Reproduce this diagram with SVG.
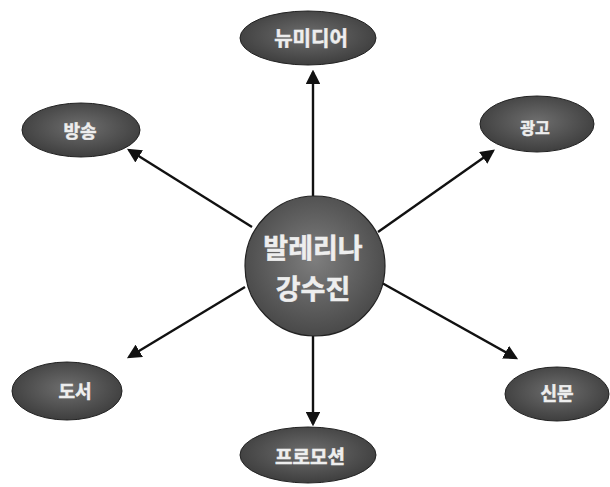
<svg xmlns="http://www.w3.org/2000/svg" width="610" height="487" viewBox="0 0 610 487">
<style>
.node{fill:url(#g);stroke:#222;stroke-width:1}
.hub{fill:url(#gh);stroke:#222;stroke-width:1.2}
.t{font-family:"Noto Sans CJK KR","Noto Sans",sans-serif;font-weight:bold;fill:#eeeeee;stroke:#eeeeee;stroke-width:0.5;text-anchor:middle}
.c{stroke:#111;stroke-width:2.4;fill:none;marker-end:url(#ah)}
</style>
<defs>
<radialGradient id="g" cx="50%" cy="45%" r="60%">
<stop offset="0" stop-color="#6e6e6e"/>
<stop offset="1" stop-color="#3a3a3a"/>
</radialGradient>
<radialGradient id="gh" cx="50%" cy="45%" r="60%">
<stop offset="0" stop-color="#7e7e7e"/>
<stop offset="1" stop-color="#444444"/>
</radialGradient>
<marker id="ah" markerWidth="6" markerHeight="6" refX="5" refY="3" orient="auto" markerUnits="strokeWidth">
<path d="M0,0 L6,3 L0,6 Z" fill="#111"/>
</marker>
</defs>
<g id="connectors">
<line class="c" x1="313" y1="196" x2="313" y2="72"/>
<line class="c" x1="252" y1="227" x2="129" y2="150"/>
<line class="c" x1="378" y1="232" x2="493" y2="151"/>
<line class="c" x1="245" y1="287" x2="129" y2="357"/>
<line class="c" x1="313" y1="336" x2="313" y2="424"/>
<line class="c" x1="382" y1="283" x2="516" y2="358"/>
</g>
<g id="newmedia">
<ellipse class="node" cx="308" cy="38" rx="68" ry="27"/>
<text class="t" x="311" y="46" font-size="20">뉴미디어</text>
</g>
<g id="broadcast">
<ellipse class="node" cx="81" cy="130" rx="59" ry="27"/>
<text class="t" x="80" y="138" font-size="18">방송</text>
</g>
<g id="ad">
<ellipse class="node" cx="537" cy="124" rx="57" ry="28"/>
<text class="t" x="535" y="134" font-size="16">광고</text>
</g>
<g id="hub">
<circle class="hub" cx="315" cy="266" r="70"/>
<text class="t" x="313" y="258" font-size="27" stroke-width="0.9">발레리나</text>
<text class="t" x="313" y="299" font-size="27" stroke-width="0.9">강수진</text>
</g>
<g id="books">
<ellipse class="node" cx="67" cy="391" rx="55" ry="29"/>
<text class="t" x="75" y="398" font-size="18">도서</text>
</g>
<g id="newspaper">
<ellipse class="node" cx="557" cy="394" rx="52" ry="27"/>
<text class="t" x="557" y="400" font-size="18">신문</text>
</g>
<g id="promotion">
<ellipse class="node" cx="308" cy="455" rx="68" ry="28"/>
<text class="t" x="310" y="464" font-size="19">프로모션</text>
</g>
</svg>
